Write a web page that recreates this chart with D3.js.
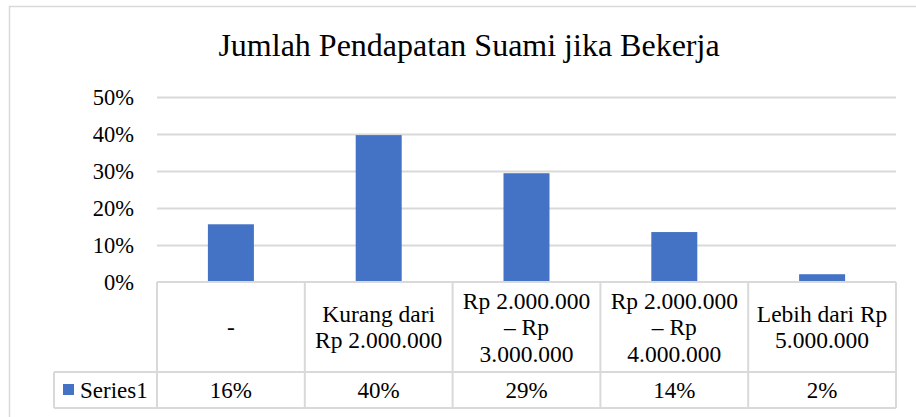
<!DOCTYPE html>
<html>
<head>
<meta charset="utf-8">
<script src="https://cdn.jsdelivr.net/npm/d3@7"></script>
<style>
    body { margin: 0; background: #fff; }
    svg text { font-family: "Liberation Serif", "Times New Roman", serif; fill: #000; }
</style>
</head>
<body>
<div id="chart"></div>
<script>
// Chart data
const chartTitle = 'Jumlah Pendapatan Suami jika Bekerja';
const categories = [
    '-',
    'Kurang dari\nRp 2.000.000',
    'Rp 2.000.000\n– Rp\n3.000.000',
    'Rp 2.000.000\n– Rp\n4.000.000',
    'Lebih dari Rp\n5.000.000'
];
const seriesName = 'Series1';
const values = [0.156, 0.397, 0.294, 0.135, 0.021];
const yTicks = [0, 0.1, 0.2, 0.3, 0.4, 0.5];

const width = 916;
const height = 417;
const margin = { left: 157, right: 20, top: 97, bottom: 135 };
const tableTop = height - margin.bottom;   // top of the data table = zero line
const rowSplit = 372;                     // between category row and value row
const tableBottom = 408;
const legendLeft = 54;
const gridColor = '#d9d9d9';
const barColor = '#4472c4';

const svg = d3.select('#chart')
    .append('svg')
    .attr('width', width)
    .attr('height', height);

// outer chart frame (runs off the right and bottom edge)
svg.append('rect')
    .attr('x', 9.5).attr('y', 6.5)
    .attr('width', 1000).attr('height', 1000)
    .attr('fill', 'none')
    .attr('stroke', gridColor)
    .attr('stroke-width', 1.5);

// title
svg.append('text')
    .attr('x', 469)
    .attr('y', 56)
    .attr('text-anchor', 'middle')
    .style('font-size', '32px')
    .text(chartTitle);

const x = d3.scaleBand()
    .domain(categories)
    .range([margin.left, width - margin.right])
    .paddingInner(0)
    .paddingOuter(0);

const y = d3.scaleLinear()
    .domain([0, 0.5])
    .range([tableTop, margin.top]);

// gridlines + tick labels
const yAxis = svg.append('g')
    .attr('transform', `translate(${margin.left},0)`)
    .call(d3.axisLeft(y)
        .tickValues(yTicks)
        .tickFormat(d3.format('.0%'))
        .tickSize(-(width - margin.left - margin.right))
        .tickPadding(23));
yAxis.select('.domain').remove();
yAxis.selectAll('.tick line')
    .attr('stroke', gridColor)
    .attr('stroke-width', 2)
    .attr('display', d => d === 0 ? 'none' : null);
yAxis.selectAll('.tick text')
    .style('font-size', '22.5px')
    .style('font-family', '"Liberation Serif", "Times New Roman", serif')
    .attr('fill', '#000');

// bars
const barWidth = 46;
svg.append('g')
    .selectAll('rect')
    .data(values)
    .join('rect')
    .attr('x', (d, i) => x(categories[i]) + (x.bandwidth() - barWidth) / 2)
    .attr('y', d => y(d))
    .attr('width', barWidth)
    .attr('height', d => y(0) - y(d))
    .attr('fill', barColor);

// data table
const table = svg.append('g')
    .attr('stroke', gridColor)
    .attr('stroke-width', 2)
    .attr('fill', 'none');

table.append('line')
    .attr('x1', margin.left).attr('x2', width - margin.right)
    .attr('y1', tableTop).attr('y2', tableTop);
table.append('line')
    .attr('x1', legendLeft).attr('x2', width - margin.right)
    .attr('y1', rowSplit).attr('y2', rowSplit);
table.append('line')
    .attr('x1', legendLeft).attr('x2', width - margin.right)
    .attr('y1', tableBottom).attr('y2', tableBottom);
table.append('line')
    .attr('x1', legendLeft).attr('x2', legendLeft)
    .attr('y1', rowSplit).attr('y2', tableBottom);
table.selectAll('line.col')
    .data(categories.map(c => x(c)).concat([width - margin.right]))
    .join('line')
    .attr('class', 'col')
    .attr('x1', d => d).attr('x2', d => d)
    .attr('y1', tableTop).attr('y2', tableBottom);

// category labels
const lineHeight = 26.5;
const catMid = (tableTop + rowSplit) / 2;
svg.append('g')
    .selectAll('text')
    .data(categories)
    .join('text')
    .attr('text-anchor', 'middle')
    .style('font-size', '23.5px')
    .each(function (d) {
        const lines = d.split('\n');
        const cx = x(d) + x.bandwidth() / 2;
        const startY = catMid - (lines.length - 1) * lineHeight / 2;
        d3.select(this).selectAll('tspan')
            .data(lines)
            .join('tspan')
            .attr('x', cx)
            .attr('y', (l, j) => startY + j * lineHeight)
            .attr('dy', '0.35em')
            .text(l => l);
    });

// value row
const valMid = (rowSplit + tableBottom) / 2;
svg.append('g')
    .selectAll('text')
    .data(values)
    .join('text')
    .attr('x', (d, i) => x(categories[i]) + x.bandwidth() / 2)
    .attr('y', valMid)
    .attr('dy', '0.35em')
    .attr('text-anchor', 'middle')
    .style('font-size', '23px')
    .text(d => d3.format('.0%')(d));

// legend key
svg.append('rect')
    .attr('x', 63).attr('y', 384)
    .attr('width', 11).attr('height', 11)
    .attr('fill', barColor);
svg.append('text')
    .attr('x', 80)
    .attr('y', valMid)
    .attr('dy', '0.35em')
    .style('font-size', '23px')
    .text(seriesName);
</script>
</body>
</html>
